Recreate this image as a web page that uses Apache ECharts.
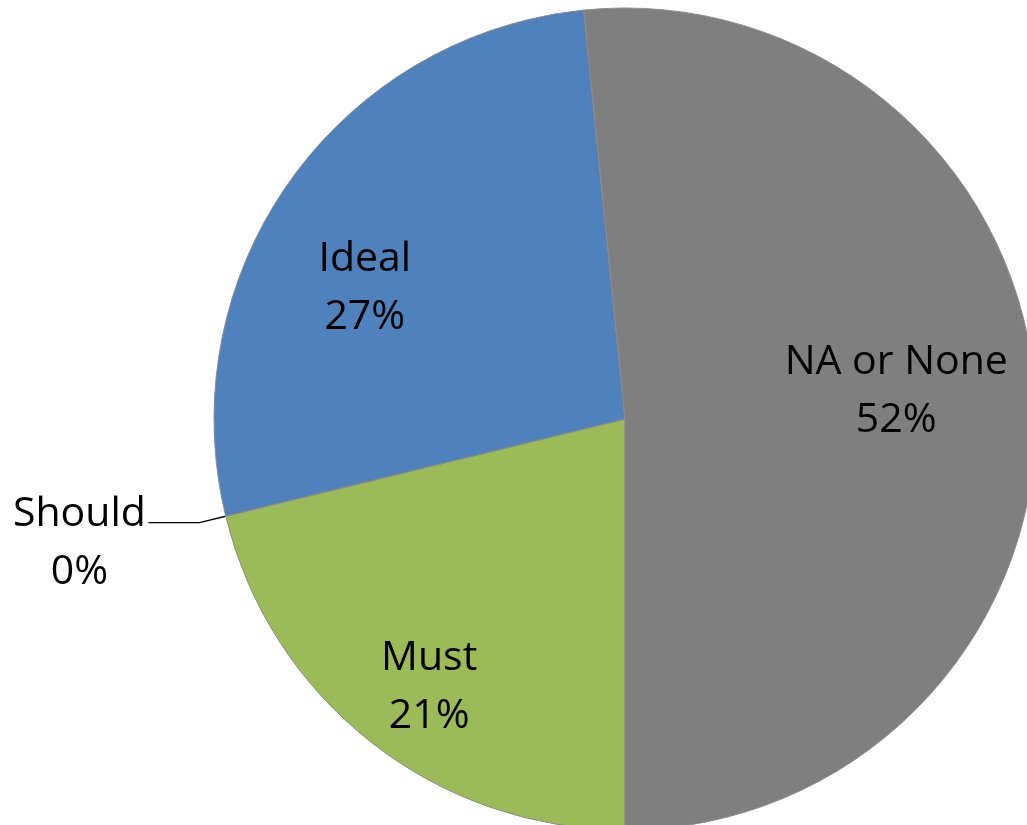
<!DOCTYPE html>
<html>
<head>
<meta charset="utf-8">
<script src="https://cdn.jsdelivr.net/npm/echarts@6/dist/echarts.min.js"></script>
<style>
html,body{margin:0;padding:0;background:#fff;}
#chart{width:1027px;height:825px;}
</style>
</head>
<body>
<div id="chart"></div>
<script>
// Data
const categories = ['Must', 'Should', 'Ideal', 'NA or None'];
const values = [21.2, 0, 27.2, 51.6];
const colors = ['#9BBB59', '#C0504D', '#4F81BD', '#7F7F7F'];

// Label nudges (style only)
const labelShift = [[-67, 104], [6, 21], [-90, -10], [63, -17]];

const data = categories.map((name, i) => {
  const item = { name: name, value: values[i], itemStyle: { color: colors[i] } };
  if (name === 'Should') {
    item.label = {
      position: 'outside',
      formatter: '{a|{b}}\n{a|{d}%}',
      rich: { a: { width: 140, align: 'center', fontSize: 41, lineHeight: 58, fontFamily: 'Open Sans', color: '#000' } }
    };
    item.labelLine = { show: true, length: 27, length2: 51, lineStyle: { color: '#000', width: 1.4 } };
  }
  return item;
});

const chart = echarts.init(document.getElementById('chart'), null, { renderer: 'canvas' });
chart.setOption({
  animation: false,
  backgroundColor: '#fff',
  series: [{
    type: 'pie',
    center: [625, 419],
    radius: [0, 411],
    startAngle: -90,
    clockwise: true,
    avoidLabelOverlap: false,
    stillShowZeroSum: true,
    percentPrecision: 0,
    itemStyle: { borderColor: '#8c8c8c', borderWidth: 1 },
    label: {
      show: true,
      position: 'inside',
      formatter: '{b}\n{d}%',
      fontFamily: 'Open Sans',
      fontSize: 41,
      lineHeight: 58,
      color: '#000'
    },
    labelLine: { show: false },
    labelLayout: function (p) {
      const s = labelShift[p.dataIndex];
      return { dx: s[0], dy: s[1] };
    },
    emphasis: { disabled: true },
    data: data
  }]
});
</script>
</body>
</html>
